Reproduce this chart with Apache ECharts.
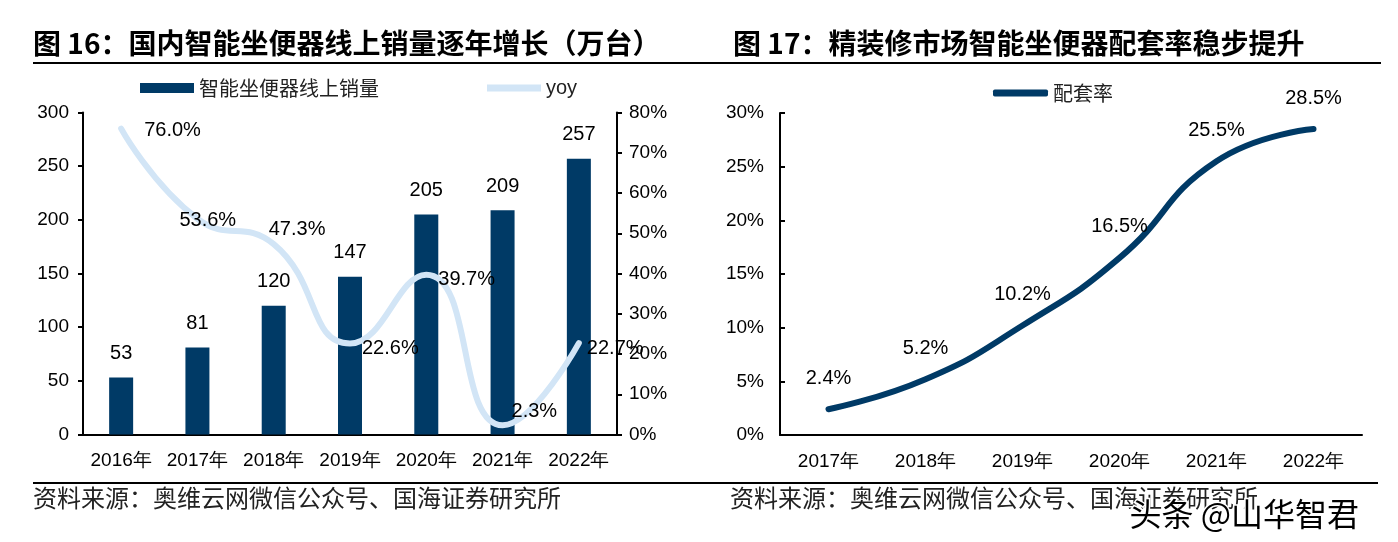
<!DOCTYPE html>
<html>
<head>
<meta charset="utf-8">
<script src="https://cdn.jsdelivr.net/npm/echarts@6/dist/echarts.min.js"></script>
<style>html,body{margin:0;padding:0;background:#fff;}#c{width:1398px;height:542px;}</style>
</head>
<body>
<div id="c"></div>
<script>
// ---- data ----
var years1 = ['2016年','2017年','2018年','2019年','2020年','2021年','2022年'];
var sales = [53, 81, 120, 147, 205, 209, 257];
var yoy = [76.0, 53.6, 47.3, 22.6, 39.7, 2.3, 22.7];
var years2 = ['2017年','2018年','2019年','2020年','2021年','2022年'];
var rate = [2.4, 5.2, 10.2, 16.5, 25.5, 28.5];
var leftTicks = [0, 50, 100, 150, 200, 250, 300];

var NAVY = '#003a66';
var LIGHT = '#d2e5f6';
var SANS = '"Liberation Sans",Arial,sans-serif';
var CJK = '"Noto Sans CJK SC",sans-serif';

// label offsets for yoy labels (style only)
var yoyOffsets = [[16,2],[-25,2],[-12,-15],[5,5],[5,5],[2,-14],[1,5]];

var chart = echarts.init(document.getElementById('c'));
var axisLineStyle = {color:'#000', width:2};
var tickFont = {fontFamily:SANS, fontSize:19, color:'#000'};
var option = {
  animation:false,
  backgroundColor:'#fff',
  legend:[
    {left:135, top:73, itemWidth:54, itemHeight:10, icon:'rect',
     data:[{name:'智能坐便器线上销量', itemStyle:{color:NAVY}}],
     textStyle:{fontFamily:CJK, fontSize:20, color:'#222'}},
    {left:482, top:73, itemWidth:54, itemHeight:7, icon:'rect',
     data:[{name:'yoy', itemStyle:{color:LIGHT}}],
     textStyle:{fontFamily:SANS, fontSize:20, color:'#222'}},
    {left:988, top:78, itemWidth:55, itemHeight:7, icon:'roundRect',
     data:[{name:'配套率', itemStyle:{color:NAVY}}],
     textStyle:{fontFamily:CJK, fontSize:20, color:'#222'}}
  ],
  grid:[
    {left:83, right:781, top:112.5, bottom:107.5},
    {left:780, right:36, top:113, bottom:107}
  ],
  xAxis:[
    {type:'category', gridIndex:0, data:years1, axisLine:{lineStyle:axisLineStyle}, axisTick:{show:false},
     axisLabel:Object.assign({margin:17, interval:0}, tickFont)},
    {type:'category', gridIndex:1, data:years2, axisLine:{lineStyle:axisLineStyle}, axisTick:{show:false},
     axisLabel:Object.assign({margin:17, interval:0}, tickFont)}
  ],
  yAxis:[
    {type:'value', gridIndex:0, min:leftTicks[0], max:leftTicks[leftTicks.length-1], interval:50,
     axisLine:{show:true, lineStyle:axisLineStyle}, axisTick:{show:true, length:5, lineStyle:axisLineStyle},
     splitLine:{show:false}, axisLabel:Object.assign({margin:14}, tickFont)},
    {type:'value', gridIndex:0, position:'right', min:0, max:80, interval:10,
     axisLine:{show:true, lineStyle:axisLineStyle}, axisTick:{show:true, length:5, lineStyle:axisLineStyle},
     splitLine:{show:false}, axisLabel:Object.assign({margin:12, formatter:'{value}%'}, tickFont)},
    {type:'value', gridIndex:1, min:0, max:30, interval:5,
     axisLine:{show:true, lineStyle:axisLineStyle}, axisTick:{show:true, inside:true, length:5, lineStyle:axisLineStyle},
     splitLine:{show:false}, axisLabel:Object.assign({margin:16, formatter:'{value}%'}, tickFont)}
  ],
  series:[
    {name:'智能坐便器线上销量', type:'bar', xAxisIndex:0, yAxisIndex:0, data:sales, barWidth:24,
     itemStyle:{color:NAVY},
     label:{show:true, position:'top', distance:14, fontFamily:SANS, fontSize:20, color:'#000'}},
    {name:'yoy', type:'line', xAxisIndex:0, yAxisIndex:1, smooth:0.5, showSymbol:true, symbol:'circle', symbolSize:2,
     lineStyle:{color:LIGHT, width:6, cap:'round'}, itemStyle:{color:LIGHT},
     data:yoy.map(function(v,i){return {value:v, label:{offset:yoyOffsets[i]}};}),
     label:{show:true, position:'right', distance:6, fontFamily:SANS, fontSize:20, color:'#000',
       formatter:function(p){return p.value.toFixed(1)+'%';}}},
    {name:'配套率', type:'line', xAxisIndex:1, yAxisIndex:2, smooth:0.5, showSymbol:true, symbol:'circle', symbolSize:2,
     lineStyle:{color:NAVY, width:6, cap:'round'}, itemStyle:{color:NAVY},
     data:rate,
     label:{show:true, position:'top', distance:20, fontFamily:SANS, fontSize:20, color:'#000',
       formatter:function(p){return p.value.toFixed(1)+'%';}}}
  ],
  graphic:[
    {type:'text', left:33, top:29, style:{text:'图 16：国内智能坐便器线上销量逐年增长（万台）', font:'bold 28px '+CJK, fill:'#000'}},
    {type:'text', left:733, top:29, style:{text:'图 17：精装修市场智能坐便器配套率稳步提升', font:'bold 28px '+CJK, fill:'#000'}},
    {type:'line', shape:{x1:33, y1:63, x2:1381, y2:63}, style:{stroke:'#000', lineWidth:2}},
    {type:'line', shape:{x1:33, y1:483, x2:1378, y2:483}, style:{stroke:'#000', lineWidth:2}},
    {type:'text', left:33, top:486, style:{text:'资料来源：奥维云网微信公众号、国海证券研究所', font:'24px '+CJK, fill:'#222'}},
    {type:'text', left:730, top:486, style:{text:'资料来源：奥维云网微信公众号、国海证券研究所', font:'24px '+CJK, fill:'#222'}},
    {type:'text', left:1128, top:496, z:100, style:{text:'头条 @山华智君', font:'32px '+CJK, fill:'#000', stroke:'#fff', lineWidth:3}}
  ]
};
chart.setOption(option);
</script>
</body>
</html>
